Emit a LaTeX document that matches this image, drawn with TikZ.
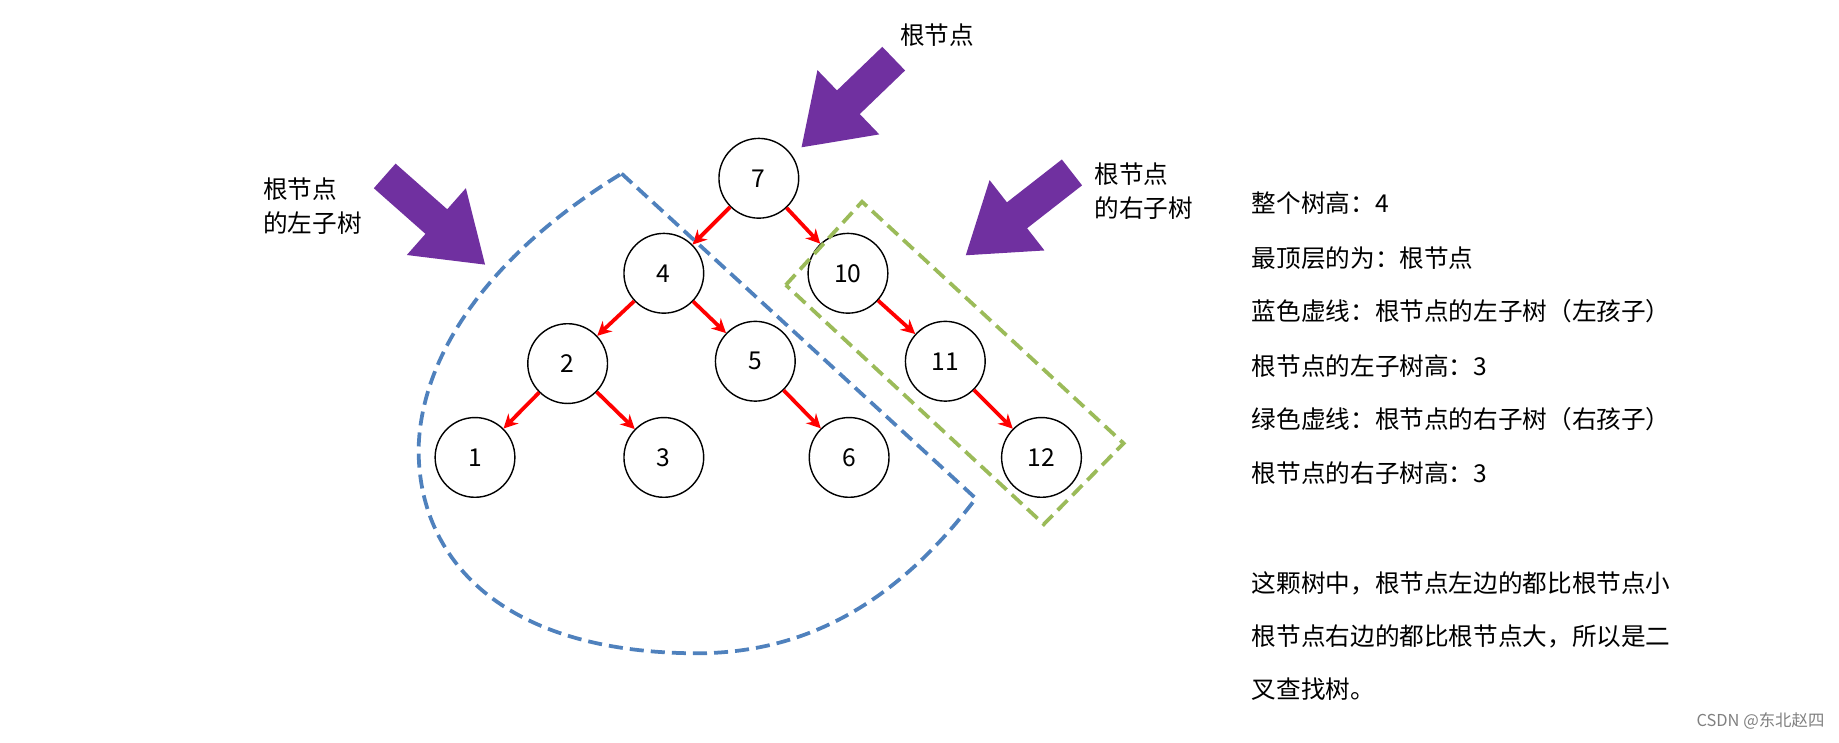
\documentclass[tikz,border=0pt]{standalone}
\usepackage{fontspec}
\setmainfont{Noto Sans CJK SC}
\usetikzlibrary{arrows.meta}
\definecolor{purp}{RGB}{112,48,160}
\definecolor{bl}{RGB}{79,129,189}
\definecolor{gr}{RGB}{155,187,89}
\begin{document}
\begin{tikzpicture}[x=0.5pt,y=-0.5pt,
  tn/.style={circle,draw,line width=0.6pt,minimum size=34pt,inner sep=0pt,font=\fontsize{10.5}{12}\selectfont},
  ed/.style={red,line width=1.6pt,-{Stealth[length=6pt,width=6pt]}},
  big/.style={purp,line width=14pt,-{Triangle[length=28pt,width=36pt]}},
  lab/.style={anchor=west,font=\fontsize{10.5}{12.5}\selectfont,inner sep=0pt},
  dsh/.style={line width=1.6pt,dash pattern=on 6pt off 3pt}]
\useasboundingbox (0,0) rectangle (1568,633);
\node[tn] (n7) at (647,152) {7};
\node[tn] (n4) at (566,233) {4};
\node[tn] (n10) at (723,233) {10};
\node[tn] (n2) at (484,310) {2};
\node[tn] (n5) at (644,308) {5};
\node[tn] (n11) at (806,308) {11};
\node[tn] (n1) at (405,390) {1};
\node[tn] (n3) at (566,390) {3};
\node[tn] (n6) at (724,390) {6};
\node[tn] (n12) at (888,390) {12};
\foreach \a/\b in {n7/n4,n7/n10,n4/n2,n4/n5,n10/n11,n2/n1,n2/n3,n5/n6,n11/n12}
  \draw[ed] (\a) -- (\b);
\coordinate (p1) at (762,50); \coordinate (q1) at (683,126);
\coordinate (p2) at (328,150); \coordinate (q2) at (414,226);
\coordinate (p3) at (914,147); \coordinate (q3) at (823,218);
\draw[big] (p1) -- (q1);
\draw[big] (p2) -- (q2);
\draw[big] (p3) -- (q3);
\draw[bl,dsh] (530,148) -- (832,425) .. controls (760,520) and (680,558) .. (590,557)
  .. controls (420,555) and (355,470) .. (357,380) .. controls (360,300) and (420,215) .. cycle;
\draw[gr,dsh] (670,243) -- (735,172) -- (958,378) -- (890,447) -- cycle;
\node[lab] (t0) at (767,30) {根节点};
\node[lab,align=left] (t1) at (224,176) {根节点\\[2pt]的左子树};
\node[lab,align=left] (t2) at (933,163) {根节点\\[2pt]的右子树};
\node[lab] (r1) at (1067,173) {整个树高：4};
\node[lab] (r2) at (1067,220) {最顶层的为：根节点};
\node[lab] (r3) at (1067,265) {蓝色虚线：根节点的左子树（左孩子）};
\node[lab] (r4) at (1067,312) {根节点的左子树高：3};
\node[lab] (r5) at (1067,357) {绿色虚线：根节点的右子树（右孩子）};
\node[lab] (r6) at (1067,403) {根节点的右子树高：3};
\node[lab] (r7) at (1067,497) {这颗树中，根节点左边的都比根节点小};
\node[lab] (r8) at (1067,543) {根节点右边的都比根节点大，所以是二};
\node[lab] (r9) at (1067,588) {叉查找树。};
\node[lab,anchor=east,gray,font=\fontsize{7}{8}\selectfont] (wm) at (1556,615) {CSDN @东北赵四};
\end{tikzpicture}
\end{document}
